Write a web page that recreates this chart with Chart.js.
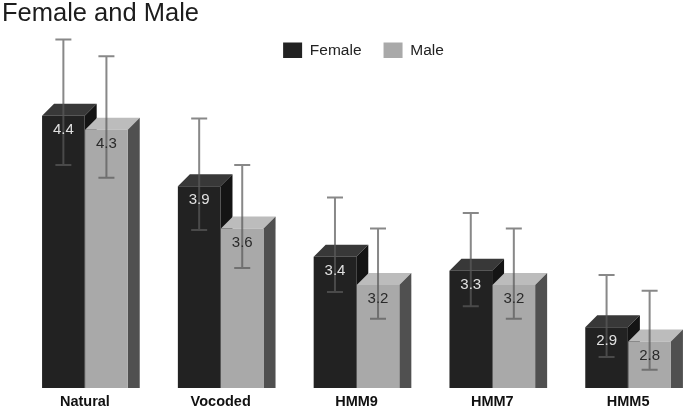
<!DOCTYPE html>
<html>
<head>
<meta charset="utf-8">
<title>Female and Male</title>
<style>
  html, body { margin: 0; padding: 0; background: #fff; overflow: hidden; }
  #wrap { width: 685px; height: 413px; overflow: hidden; }
</style>
<script src="https://cdn.jsdelivr.net/npm/chart.js@4"></script>
</head>
<body>
<div id="wrap"><canvas id="chart" width="726" height="417"></canvas></div>
<script>
// Values
const categories = ['Natural', 'Vocoded', 'HMM9', 'HMM7', 'HMM5'];
const femaleValues = [4.4, 3.9, 3.4, 3.3, 2.9];
const maleValues = [4.3, 3.6, 3.2, 3.2, 2.8];
const femaleHigh = [4.94, 4.38, 3.82, 3.71, 3.27];
const femaleLow = [4.05, 3.59, 3.15, 3.05, 2.69];
const maleHigh = [4.82, 4.05, 3.60, 3.60, 3.16];
const maleLow = [3.96, 3.32, 2.96, 2.96, 2.60];

const DEPTH = 12;
const FONT = '"Liberation Sans", Arial, sans-serif';

// Per dataset look of the 3D faces and the value label
const faces = [
  { top: '#383838', side: '#141414', label: '#e0e0e0', high: femaleHigh, low: femaleLow },
  { top: '#bcbcbc', side: '#505050', label: '#2a2a2a', high: maleHigh, low: maleLow }
];

function polygon(ctx, pts, color) {
  ctx.fillStyle = color;
  ctx.beginPath();
  pts.forEach((p, i) => i ? ctx.lineTo(p[0], p[1]) : ctx.moveTo(p[0], p[1]));
  ctx.closePath();
  ctx.fill();
}

const bar3d = {
  id: 'bar3d',
  afterLayout(chart) {
    // title hangs out to the left of the plot, legend sits a bit right of its centre
    chart.titleBlock.left -= 15;
    chart.titleBlock.right -= 15;
    chart.titleBlock.top -= 1;
    chart.titleBlock.bottom -= 1;
    chart.legend.left += 7;
    chart.legend.right += 7;
    chart.legend.top -= 10;
    chart.legend.bottom -= 10;
  },
  // Top and side faces go behind all the front rectangles, female first
  beforeDatasetsDraw(chart) {
    const ctx = chart.ctx;
    const base = chart.chartArea.bottom;
    ctx.save();
    faces.forEach((f, d) => {
      chart.getDatasetMeta(d).data.forEach(bar => {
        const l = bar.x - bar.width / 2;
        const r = bar.x + bar.width / 2;
        polygon(ctx, [[l, bar.y], [l + DEPTH, bar.y - DEPTH], [r + DEPTH, bar.y - DEPTH], [r, bar.y]], f.top);
        polygon(ctx, [[r, bar.y], [r + DEPTH, bar.y - DEPTH], [r + DEPTH, base], [r, base]], f.side);
      });
    });
    ctx.restore();
  },
  // Error bars and value labels are on top of everything
  afterDatasetsDraw(chart) {
    const ctx = chart.ctx;
    const y = chart.scales.y;
    ctx.save();
    faces.forEach((f, d) => {
      const meta = chart.getDatasetMeta(d);
      meta.data.forEach((bar, i) => {
        const hi = y.getPixelForValue(f.high[i]);
        const lo = y.getPixelForValue(f.low[i]);
        ctx.strokeStyle = 'rgba(90,90,90,0.72)';
        ctx.lineWidth = 2;
        ctx.beginPath();
        ctx.moveTo(bar.x, hi);
        ctx.lineTo(bar.x, lo);
        ctx.moveTo(bar.x - 8, hi);
        ctx.lineTo(bar.x + 8, hi);
        ctx.moveTo(bar.x - 8, lo);
        ctx.lineTo(bar.x + 8, lo);
        ctx.stroke();
      });
    });
    faces.forEach((f, d) => {
      const meta = chart.getDatasetMeta(d);
      const values = chart.data.datasets[d].data;
      ctx.font = '15px ' + FONT;
      ctx.textAlign = 'center';
      ctx.textBaseline = 'middle';
      ctx.fillStyle = f.label;
      meta.data.forEach((bar, i) => {
        ctx.fillText(values[i].toFixed(1), bar.x, bar.y + 14);
      });
    });
    ctx.restore();
  }
};

new Chart(document.getElementById('chart').getContext('2d'), {
  type: 'bar',
  data: {
    labels: categories,
    datasets: [
      { label: 'Female', data: femaleValues, backgroundColor: '#222222' },
      { label: 'Male', data: maleValues, backgroundColor: '#a9a9a9' }
    ]
  },
  options: {
    responsive: false,
    animation: false,
    devicePixelRatio: 1,
    categoryPercentage: 0.634,
    barPercentage: 0.99,
    layout: { padding: { left: 17, right: 30, top: 0, bottom: 0.2 } },
    plugins: {
      title: {
        display: true,
        text: 'Female and Male',
        align: 'start',
        color: '#1c1c1c',
        font: { family: FONT, size: 25.5, weight: 'normal' },
        padding: { top: 0, bottom: 0 }
      },
      legend: {
        position: 'top',
        align: 'center',
        labels: {
          usePointStyle: true,
          pointStyle: 'rect',
          pointStyleWidth: 19,
          color: '#222222',
          padding: 22,
          font: { family: FONT, size: 15.5 }
        }
      },
      tooltip: { enabled: false }
    },
    scales: {
      x: {
        grid: { display: false, drawTicks: false },
        border: { display: false },
        ticks: {
          color: '#111111',
          maxRotation: 0,
          padding: 5.7,
          font: { family: FONT, size: 14.5, weight: 'bold' }
        }
      },
      y: { display: false, min: 2.47, max: 4.666 }
    }
  },
  plugins: [bar3d]
});
</script>
</body>
</html>
